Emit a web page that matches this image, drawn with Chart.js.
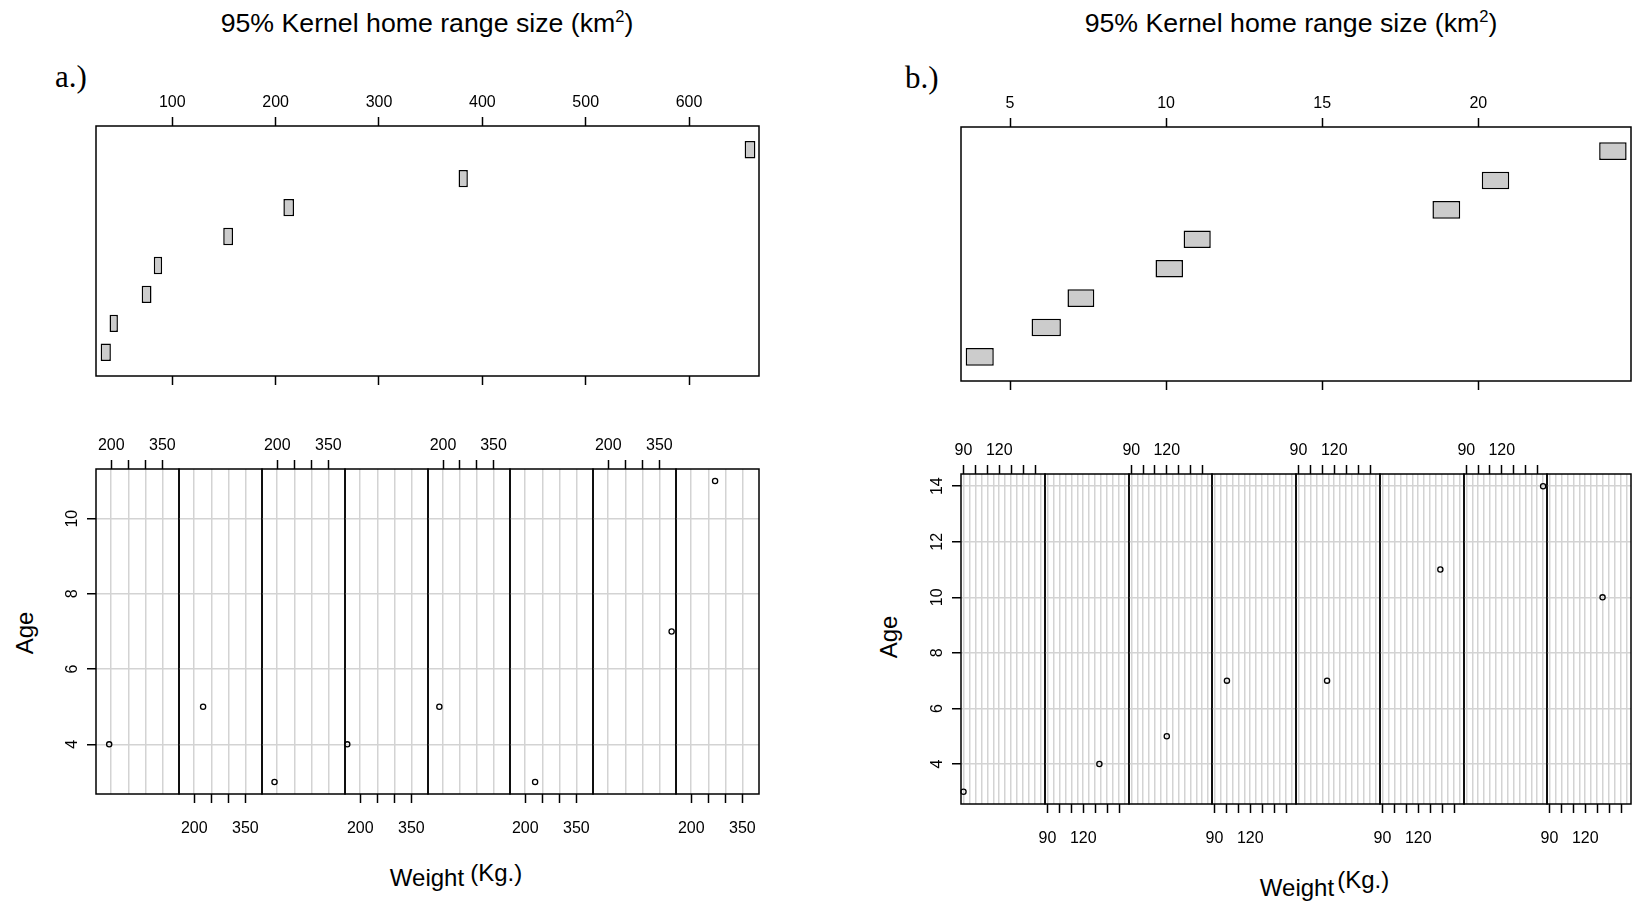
<!DOCTYPE html>
<html><head><meta charset="utf-8">
<script src="https://cdn.jsdelivr.net/npm/chart.js@4.4.1/dist/chart.umd.min.js"></script>
<style>
html,body{margin:0;padding:0;width:1632px;height:907px;overflow:hidden;background:#fff;}
canvas{position:absolute;}
.t{position:absolute;font-family:"Liberation Sans",Arial,sans-serif;color:#000;white-space:nowrap;line-height:1;}
.s{font-family:"Liberation Serif","Times New Roman",serif;}
</style></head><body>
<div class="t" style="left:427px;top:23px;transform:translate(-50%,-50%);font-size:26.7px">95% Kernel home range size (km<span style="font-size:0.62em;position:relative;top:-0.6em">2</span>)</div>
<div class="t" style="left:1291px;top:23px;transform:translate(-50%,-50%);font-size:26.7px">95% Kernel home range size (km<span style="font-size:0.62em;position:relative;top:-0.6em">2</span>)</div>
<div class="t s" style="left:55px;top:61px;font-size:31px">a.)</div>
<div class="t s" style="left:905px;top:62px;font-size:31px">b.)</div>
<div class="t" style="left:25px;top:633px;transform:translate(-50%,-50%) rotate(-90deg);font-size:24px">Age</div>
<div class="t" style="left:889px;top:637px;transform:translate(-50%,-50%) rotate(-90deg);font-size:24px">Age</div>
<div class="t" style="left:427px;top:866px;font-size:24px"><span style="position:relative;display:inline-block;transform:translateX(-50%)">Weight<span style="position:absolute;left:100%;margin-left:6px;top:-5px">(Kg.)</span></span></div>
<div class="t" style="left:1297px;top:876px;font-size:24px"><span style="position:relative;display:inline-block;transform:translateX(-50%)">Weight<span style="position:absolute;left:100%;margin-left:3px;top:-8px">(Kg.)</span></span></div>
<script>
// ---------------- data ----------------
const intervalIndex = [1, 2, 3, 4, 5, 6, 7, 8];

// a.)
const aHomeRangeLow  = [30.7, 39.3, 70.4, 82.1, 149.3, 207.5, 377.0, 653.8];
const aHomeRangeHigh = [40.6, 47.4, 79.9, 90.2, 158.8, 217.8, 386.0, 664.2];
const aWeight = [194, 226, 192, 162, 189, 229, 386, 270];
const aAge    = [4, 5, 3, 4, 5, 3, 7, 11];
const aRangeLimits  = [26.2, 667.7];
const aRangeTicks   = [100, 200, 300, 400, 500, 600];
const aWeightLimits = [155.3, 398.9];
const aWeightTicks  = [200, 250, 300, 350];
const aWeightTickLabels = ['200', '', '', '350'];
const aWeightGrid   = [200, 250, 300, 350];
const aAgeLimits    = [2.68, 11.32];
const aAgeTicks     = [4, 6, 8, 10];

// b.)
const bHomeRangeLow  = [3.58, 5.69, 6.84, 9.66, 10.56, 18.53, 20.11, 23.87];
const bHomeRangeHigh = [4.48, 6.63, 7.70, 10.54, 11.43, 19.42, 20.99, 24.75];
const bWeight = [90.1, 133.5, 120, 100.5, 114, 138.5, 155, 134.5];
const bAge    = [3, 4, 5, 7, 7, 11, 14, 10];
const bRangeLimits  = [3.43, 24.89];
const bRangeTicks   = [5, 10, 15, 20];
const bWeightLimits = [88, 158.3];
const bWeightTicks  = [90, 100, 110, 120, 130, 140, 150];
const bWeightTickLabels = ['90', '', '', '120', '', '', ''];
const bWeightGrid   = [90, 95, 100, 105, 110, 115, 120, 125, 130, 135, 140, 145, 150, 155];
const bAgeLimits    = [2.56, 14.44];
const bAgeTicks     = [4, 6, 8, 10, 12, 14];
const givenLimits   = [0.18, 8.82];

// ---------------- layout ----------------
const FONT = "'Liberation Sans', Arial, sans-serif";
const GRID = '#d3d3d3';
const LW = 1.5;
Chart.defaults.font.family = FONT;
Chart.defaults.color = '#000';

Chart.register({
  id: 'frame',
  afterDraw(chart) {
    const a = chart.chartArea, ctx = chart.ctx;
    ctx.save();
    ctx.strokeStyle = '#000';
    ctx.lineWidth = LW;
    ctx.strokeRect(a.left, a.top, a.right - a.left, a.bottom - a.top);
    ctx.restore();
  }
});

function addCanvas(x, y, w, h) {
  const c = document.createElement('canvas');
  c.width = w; c.height = h;
  c.style.left = x + 'px'; c.style.top = y + 'px';
  c.style.width = w + 'px'; c.style.height = h + 'px';
  document.body.appendChild(c);
  return c;
}
const setTicks = vals => s => { s.ticks = vals.map(v => ({ value: v })); };
const tickFont = { family: FONT, size: 16 };

function givenPanel(rect, lo, hi, lim, ticks) {
  const M = { l: 30, r: 30, t: 40, b: 20 };
  const c = addCanvas(rect.l - M.l, rect.t - M.t, rect.w + M.l + M.r, rect.h + M.t + M.b);
  const tickGrid = { drawOnChartArea: false, drawTicks: true, tickLength: 9, tickColor: '#000', tickWidth: LW };
  new Chart(c, {
    type: 'bar',
    data: {
      datasets: [{
        data: intervalIndex.map((k, i) => ({ x: [lo[i], hi[i]], y: k })),
        backgroundColor: '#cccccc', borderColor: '#000', borderWidth: LW,
        borderSkipped: false, categoryPercentage: 1, barPercentage: 0.6
      }]
    },
    options: {
      indexAxis: 'y', responsive: false, animation: false, devicePixelRatio: 1,
      layout: { padding: { left: M.l, right: M.r, top: 0, bottom: 0 } },
      plugins: { legend: { display: false }, tooltip: { enabled: false } },
      scales: {
        x: {
          type: 'linear', position: 'top', min: lim[0], max: lim[1],
          afterBuildTicks: setTicks(ticks), afterFit: s => { s.height = M.t; },
          grid: tickGrid, border: { display: false },
          ticks: { font: tickFont, color: '#000', padding: 5, minRotation: 0, maxRotation: 0, autoSkip: false, callback: v => String(v) }
        },
        x2: {
          type: 'linear', position: 'bottom', min: lim[0], max: lim[1],
          afterBuildTicks: setTicks(ticks), afterFit: s => { s.height = M.b; },
          grid: tickGrid, border: { display: false },
          ticks: { font: tickFont, padding: 0, minRotation: 0, maxRotation: 0, autoSkip: false, callback: () => '' }
        },
        y: {
          type: 'linear', position: 'left', min: givenLimits[0], max: givenLimits[1], offset: false,
          afterBuildTicks: setTicks(intervalIndex), afterFit: s => { s.width = 0; },
          grid: { display: false, offset: false }, border: { display: false }, ticks: { display: false }
        }
      }
    }
  });
}

function subPanel(rect, idx, wx, ay, cfg) {
  const top = idx % 2 === 0, first = idx === 0;
  const M = { l: first ? 40 : 36, r: 36, t: 40, b: 45 };
  const c = addCanvas(rect.l - M.l, rect.t - M.t, rect.w + M.l + M.r, rect.h + M.t + M.b);
  new Chart(c, {
    type: 'scatter',
    data: {
      datasets: [{
        data: [{ x: wx, y: ay }], xAxisID: 'x', yAxisID: 'y',
        pointStyle: 'circle', pointRadius: 2.6, pointBorderWidth: 1.3,
        borderColor: '#000', backgroundColor: 'rgba(0,0,0,0)', clip: false
      }]
    },
    options: {
      responsive: false, animation: false, devicePixelRatio: 1,
      layout: { padding: { left: first ? 0 : M.l, right: M.r, top: top ? 0 : M.t, bottom: top ? M.b : 0 } },
      plugins: { legend: { display: false }, tooltip: { enabled: false } },
      scales: {
        x: {
          type: 'linear', position: 'bottom', min: cfg.xLim[0], max: cfg.xLim[1],
          afterBuildTicks: setTicks(cfg.xGrid), afterFit: s => { s.height = 0; },
          grid: { color: GRID, lineWidth: LW, drawTicks: false }, border: { display: false },
          ticks: { display: false }
        },
        xt: {
          type: 'linear', position: top ? 'top' : 'bottom', min: cfg.xLim[0], max: cfg.xLim[1],
          afterBuildTicks: setTicks(cfg.xTicks), afterFit: s => { s.height = top ? M.t : M.b; },
          grid: { drawOnChartArea: false, drawTicks: true, tickLength: 9, tickColor: '#000', tickWidth: LW },
          border: { display: false },
          ticks: { font: tickFont, color: '#000', padding: top ? 5 : 16, minRotation: 0, maxRotation: 0, autoSkip: false,
                   callback: (v, i) => cfg.xLabels[i] }
        },
        y: {
          type: 'linear', position: 'left', min: cfg.yLim[0], max: cfg.yLim[1],
          afterBuildTicks: setTicks(cfg.yTicks), afterFit: s => { s.width = first ? M.l : 0; },
          grid: { color: GRID, lineWidth: LW, drawTicks: first, tickLength: 9, tickColor: '#000', tickWidth: LW },
          border: { display: false },
          ticks: { display: first, font: tickFont, color: '#000', padding: 6, minRotation: 90, maxRotation: 90,
                   crossAlign: 'center', autoSkip: false, callback: v => String(v) }
        }
      }
    }
  });
}

function coplotRow(R, weight, age, cfg) {
  for (let i = 0; i < 8; i++) {
    const l = Math.round(R.l + i * R.w / 8), r = Math.round(R.l + (i + 1) * R.w / 8);
    subPanel({ l, t: R.t, w: r - l, h: R.h }, i, weight[i], age[i], cfg);
  }
}

// a.)
givenPanel({ l: 96, t: 126, w: 663, h: 250 }, aHomeRangeLow, aHomeRangeHigh, aRangeLimits, aRangeTicks);
coplotRow({ l: 96, t: 469, w: 663, h: 325 }, aWeight, aAge, {
  xLim: aWeightLimits, xGrid: aWeightGrid, xTicks: aWeightTicks, xLabels: aWeightTickLabels,
  yLim: aAgeLimits, yTicks: aAgeTicks
});
// b.)
givenPanel({ l: 961, t: 127, w: 670, h: 254 }, bHomeRangeLow, bHomeRangeHigh, bRangeLimits, bRangeTicks);
coplotRow({ l: 961, t: 474, w: 670, h: 330 }, bWeight, bAge, {
  xLim: bWeightLimits, xGrid: bWeightGrid, xTicks: bWeightTicks, xLabels: bWeightTickLabels,
  yLim: bAgeLimits, yTicks: bAgeTicks
});
</script>
</body></html>
